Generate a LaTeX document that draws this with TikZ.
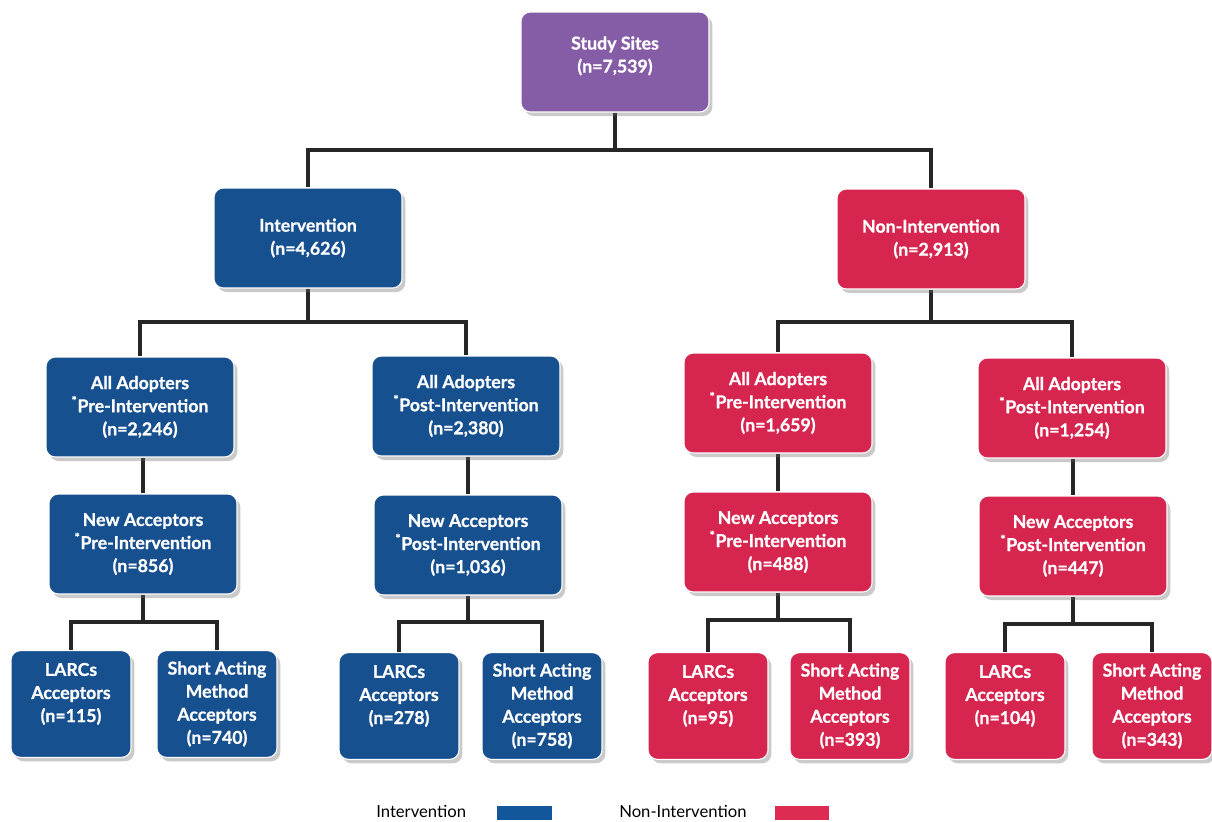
\documentclass[tikz,border=0pt]{standalone}
\usepackage{fontspec}
\setmainfont{Lato}
\newfontfamily\boxfont[BoldFeatures={FakeBold=0.8}]{Lato}
\usetikzlibrary{shadows}
\pgfdeclarelayer{bg}
\pgfsetlayers{bg,main}
\definecolor{cpurple}{HTML}{855CA6}
\definecolor{cblue}{HTML}{17508F}
\definecolor{cred}{HTML}{D6264F}
\definecolor{lblue}{HTML}{12579B}
\definecolor{lred}{HTML}{DE2B52}
\tikzset{
  box/.style={rounded corners=7pt, draw=white, line width=0.8pt, text=white,
    font=\boxfont\bfseries\fontsize{13.3}{17.3}\selectfont, align=center, inner sep=1pt,
    drop shadow={shadow xshift=2.5pt, shadow yshift=-3pt, opacity=0.35, fill=black!60}},
  midbox/.style={box, minimum width=141pt, minimum height=75pt},
  leaf/.style={box, minimum width=90pt, minimum height=80pt},
  conn/.style={line width=2.6pt, draw=black!85},
  legtext/.style={font=\fontsize{12.5}{13}\selectfont, anchor=west, inner sep=0pt},
}
\begin{document}
\begin{tikzpicture}[x=0.75pt,y=-0.75pt]
\useasboundingbox (0,0) rectangle (1212,821);
% top
\node[midbox, fill=cpurple] (ss) at (615,62) {Study Sites\\(n=7,539)\\[-6pt]};
\node[midbox, fill=cblue] (int) at (308,238) {Intervention\\(n=4,626)};
\node[midbox, fill=cred] (non) at (931,239) {Non-Intervention\\(n=2,913)};
% all adopters
\node[midbox, fill=cblue] (aa1) at (140,407) {All Adopters\\\textsuperscript{*}Pre-Intervention\\(n=2,246)};
\node[midbox, fill=cblue] (aa2) at (466,406) {All Adopters\\\textsuperscript{*}Post-Intervention\\(n=2,380)};
\node[midbox, fill=cred] (aa3) at (778,403) {All Adopters\\\textsuperscript{*}Pre-Intervention\\(n=1,659)};
\node[midbox, fill=cred] (aa4) at (1072,408) {All Adopters\\\textsuperscript{*}Post-Intervention\\(n=1,254)};
% new acceptors
\node[midbox, fill=cblue] (na1) at (143,544) {New Acceptors\\\textsuperscript{*}Pre-Intervention\\(n=856)};
\node[midbox, fill=cblue] (na2) at (468,545) {New Acceptors\\\textsuperscript{*}Post-Intervention\\(n=1,036)};
\node[midbox, fill=cred] (na3) at (778,542) {New Acceptors\\\textsuperscript{*}Pre-Intervention\\(n=488)};
\node[midbox, fill=cred] (na4) at (1073,546) {New Acceptors\\\textsuperscript{*}Post-Intervention\\(n=447)};
% leaves
\node[leaf, fill=cblue] (l1) at (71,704) {LARCs\\Acceptors\\(n=115)\\ };
\node[leaf, fill=cblue] (s1) at (217,704) {Short Acting\\Method\\Acceptors\\(n=740)};
\node[leaf, fill=cblue] (l2) at (399,706) {LARCs\\Acceptors\\(n=278)\\ };
\node[leaf, fill=cblue] (s2) at (542,706) {Short Acting\\Method\\Acceptors\\(n=758)};
\node[leaf, fill=cred] (l3) at (708,706) {LARCs\\Acceptors\\(n=95)\\ };
\node[leaf, fill=cred] (s3) at (850,706) {Short Acting\\Method\\Acceptors\\(n=393)};
\node[leaf, fill=cred] (l4) at (1005,706) {LARCs\\Acceptors\\(n=104)\\ };
\node[leaf, fill=cred] (s4) at (1152,706) {Short Acting\\Method\\Acceptors\\(n=343)};
% junctions
\coordinate (j0) at (615,150);
\coordinate (j1) at (308,322);
\coordinate (j2) at (931,322);
\coordinate (j3) at (143,622);
\coordinate (j4) at (468,622);
\coordinate (j5) at (778,620);
\coordinate (j6) at (1073,624);
\begin{pgfonlayer}{bg}
\draw[conn] (ss.south) -- (j0);
\draw[conn] (j0) -| (int.north);
\draw[conn] (j0) -| (non.north);
\draw[conn] (int.south) -- (j1);
\draw[conn] (j1) -| (aa1.north);
\draw[conn] (j1) -| (aa2.north);
\draw[conn] (non.south) -- (j2);
\draw[conn] (j2) -| (aa3.north);
\draw[conn] (j2) -| (aa4.north);
\draw[conn] (aa1.south -| na1.north) -- (na1.north);
\draw[conn] (aa2.south -| na2.north) -- (na2.north);
\draw[conn] (aa3.south -| na3.north) -- (na3.north);
\draw[conn] (aa4.south -| na4.north) -- (na4.north);
\draw[conn] (na1.south) -- (j3);
\draw[conn] (j3) -| (l1.north);
\draw[conn] (j3) -| (s1.north);
\draw[conn] (na2.south) -- (j4);
\draw[conn] (j4) -| (l2.north);
\draw[conn] (j4) -| (s2.north);
\draw[conn] (na3.south) -- (j5);
\draw[conn] (j5) -| (l3.north);
\draw[conn] (j5) -| (s3.north);
\draw[conn] (na4.south) -- (j6);
\draw[conn] (j6) -| (l4.north);
\draw[conn] (j6) -| (s4.north);
\end{pgfonlayer}
% legend
\node[legtext] (lg1) at (376,811) {Intervention};
\node[fill=lblue, minimum width=41pt, minimum height=10.5pt, inner sep=0pt, anchor=west] (lb1) at (497,813) {};
\node[legtext] (lg2) at (619,811) {Non-Intervention};
\node[fill=lred, minimum width=40pt, minimum height=10.5pt, inner sep=0pt, anchor=west] (lb2) at (775,813) {};
\end{tikzpicture}
\end{document}
